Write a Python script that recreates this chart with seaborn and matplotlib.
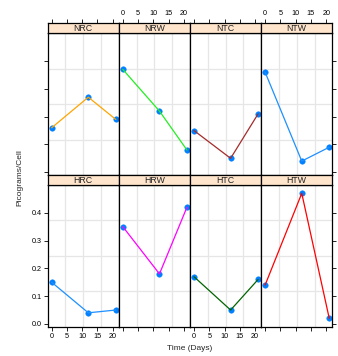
import matplotlib
matplotlib.use("Agg")
import matplotlib.pyplot as plt
import seaborn as sns
import pandas as pd
import numpy as np

sns.set_style("white")
plt.rcParams['font.family'] = ['Liberation Sans', 'DejaVu Sans']

days = [0, 12, 21]
panels = ["NRC", "NRW", "NTC", "NTW", "HRC", "HRW", "HTC", "HTW"]
values = {
    "NRC": [0.16, 0.27, 0.19],
    "NRW": [0.37, 0.22, 0.08],
    "NTC": [0.15, 0.05, 0.21],
    "NTW": [0.36, 0.04, 0.09],
    "HRC": [0.15, 0.04, 0.05],
    "HRW": [0.35, 0.18, 0.42],
    "HTC": [0.17, 0.05, 0.16],
    "HTW": [0.14, 0.47, 0.02],
}
line_colors = {
    "NRC": "#FFA500", "NRW": "#22EE22", "NTC": "#A52A2A", "NTW": "#1E90FF",
    "HRC": "#1E90FF", "HRW": "#FF00FF", "HTC": "#006400", "HTW": "#FF0000",
}
xticks = [0, 5, 10, 15, 20]
yticks = [0.0, 0.1, 0.2, 0.3, 0.4]
ytick_labels = ["0.0", "0.1", "0.2", "0.3", "0.4"]

rows = []
for p in panels:
    for d, v in zip(days, values[p]):
        rows.append({"panel": p, "Time": d, "Value": v})
df = pd.DataFrame(rows)

W, H = 338, 356
fig = plt.figure(figsize=(W / 100, H / 100), dpi=100)

left0 = 47.7
pw = 71.15
ph = 141.7
sh = 10.0
row_top_px = [33.3, 185.0]  # panel tops (below strip)
xlim = (-1.3, 22.0)
ylim = (-0.01, 0.50)
fs = 5.2

def frac(x, y, w, h):
    return [x / W, 1 - (y + h) / H, w / W, h / H]

for i, p in enumerate(panels):
    r, c = divmod(i, 4)
    x0 = left0 + c * pw
    y0 = row_top_px[r]
    ax = fig.add_axes(frac(x0, y0, pw, ph))
    sax = fig.add_axes(frac(x0, y0 - sh, pw, sh))
    sub = df[df.panel == p]
    ax.set_xlim(*xlim)
    ax.set_ylim(*ylim)
    # lattice-style grid at quarter points
    for q in (0.25, 0.5, 0.75):
        ax.axvline(xlim[0] + q * (xlim[1] - xlim[0]), color="#e6e6e6", lw=0.9, zorder=0)
        ax.axhline(ylim[0] + q * (ylim[1] - ylim[0]), color="#e6e6e6", lw=0.9, zorder=0)
    sns.scatterplot(data=sub, x="Time", y="Value", ax=ax, color="#0080ff",
                    s=16, edgecolor="#0080ff", linewidth=0.3, zorder=2, legend=False)
    sns.lineplot(data=sub, x="Time", y="Value", ax=ax, color=line_colors[p],
                 lw=0.9, zorder=3, legend=False)
    ax.set_xlabel("")
    ax.set_ylabel("")
    for s in ax.spines.values():
        s.set_color("black")
        s.set_linewidth(0.9)
    # x ticks
    ax.set_xticks(xticks)
    ax.set_yticks(yticks)
    ax.tick_params(direction="out", length=3, width=0.6, colors="black",
                   labelsize=fs, pad=1.5)
    if r == 1:
        ax.tick_params(axis="x", bottom=True, top=False, labelbottom=(c % 2 == 0))
    else:
        ax.tick_params(axis="x", bottom=False, top=False, labelbottom=False)
    ax.tick_params(axis="y", left=(c == 0), right=(c == 3),
                   labelleft=(c == 0 and r == 1), labelright=False)
    if c == 0 and r == 1:
        ax.set_yticklabels(ytick_labels)
    # strip
    sax.set_xlim(*xlim)
    sax.set_ylim(0, 1)
    sax.set_facecolor("#ffe5cc")
    sax.set_yticks([])
    for s in sax.spines.values():
        s.set_color("black")
        s.set_linewidth(0.9)
    sax.text(0.5, 0.45, p, transform=sax.transAxes, ha="center", va="center",
             fontsize=6.3, color="#222222")
    sax.set_xticks(xticks)
    if r == 0:
        sax.tick_params(axis="x", bottom=False, top=True, labelbottom=False,
                        labeltop=(c % 2 == 1), direction="out", length=3,
                        width=0.6, labelsize=fs, pad=1.5, colors="black")
    else:
        sax.tick_params(axis="x", bottom=False, top=False, labelbottom=False,
                        labeltop=False)

fig.text(20 / W, 1 - 178 / H, "Picograms/Cell", rotation=90, ha="center",
         va="center", fontsize=6)
fig.text(190 / W, 1 - 348 / H, "Time (Days)", ha="center", va="center", fontsize=6)

fig.savefig("out.png", dpi=100)
